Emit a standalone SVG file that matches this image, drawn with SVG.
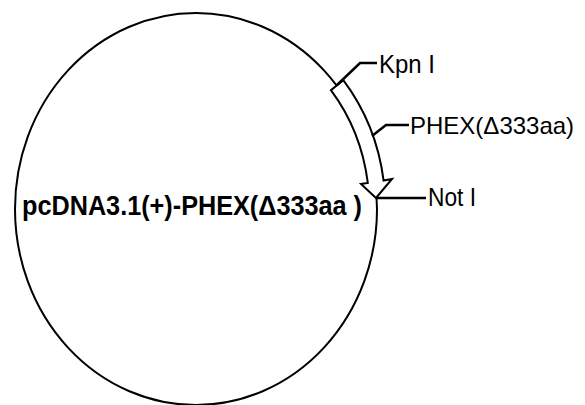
<svg xmlns="http://www.w3.org/2000/svg" width="585" height="405" viewBox="0 0 585 405">
<style>
.ln{fill:none;stroke:#000;stroke-width:2.5;stroke-linejoin:miter}
.lbl{font-family:"Liberation Sans",Arial,sans-serif;font-size:26px;fill:#000}
.main{font-family:"Liberation Sans",Arial,sans-serif;font-size:27px;font-weight:bold;fill:#000}
</style>
<rect width="585" height="405" fill="#fff"/>
<g id="plasmid">
<ellipse cx="196" cy="209" rx="181" ry="196" fill="none" stroke="#000" stroke-width="2"/>
<text class="main" x="22" y="215" textLength="340" lengthAdjust="spacingAndGlyphs">pcDNA3.1(+)-PHEX(Δ333aa )</text>
</g>
<g id="phex-arrow">
<path d="M343.3 80.1 A189 204 0 0 1 383.6 180.6 L392 179 L376 198 L361 184 L367.8 182.9 A173 188 0 0 0 330.9 90.2 Z" fill="#fff" stroke="#000" stroke-width="2" stroke-linejoin="miter"/>
</g>
<g id="connectors">
<polyline class="ln" points="337,85 360,63 377,63"/>
<polyline class="ln" points="372,136 386,125 409,125"/>
<polyline class="ln" points="376,198 426,198"/>
</g>
<g id="kpn"><text class="lbl" x="379" y="73" textLength="56" lengthAdjust="spacingAndGlyphs">Kpn I</text></g>
<g id="phex"><text class="lbl" x="410" y="134" font-size="24" style="font-size:24px">PHEX(Δ333aa)</text></g>
<g id="noti"><text class="lbl" x="428" y="206" textLength="48" lengthAdjust="spacingAndGlyphs">Not I</text></g>
</svg>
